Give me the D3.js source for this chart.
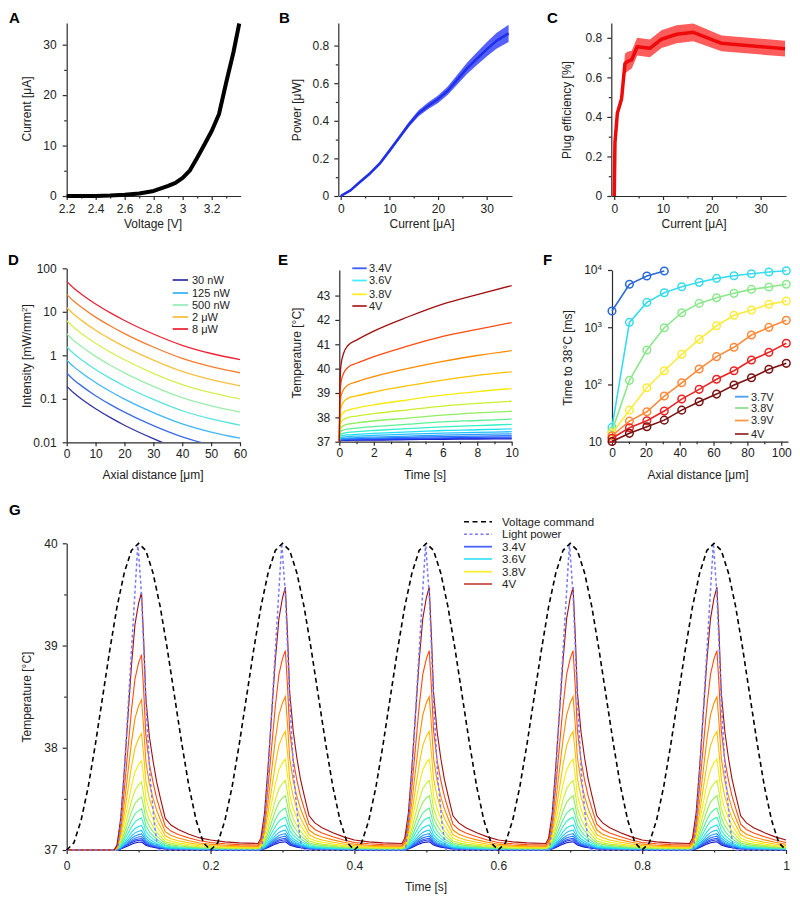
<!DOCTYPE html>
<html><head><meta charset="utf-8">
<script src="https://cdn.jsdelivr.net/npm/d3@7"></script>
<style>body{margin:0;background:#fff}</style>
</head><body><svg id="fig" width="800" height="897"></svg>
<script>
// ---------- DATA ----------
// A: I-V curve
const aVoltage = [2.2, 2.4, 2.5, 2.6, 2.7, 2.8, 2.9, 2.95, 3.0, 3.05, 3.1, 3.15, 3.2, 3.25, 3.3, 3.35, 3.39];
const aCurrent = [0, 0.02, 0.1, 0.25, 0.5, 1.0, 2.0, 2.6, 3.6, 5.1, 7.6, 10.2, 12.9, 16.2, 22.5, 28.5, 34.2];
// B: power vs current (mean, sd)
const bCurrent = [0, 2, 4, 6, 8, 10, 12, 14, 16, 18, 20, 22, 24, 26, 28, 30, 32, 34.5];
const bPower   = [0, 0.03, 0.076, 0.12, 0.172, 0.24, 0.31, 0.38, 0.44, 0.48, 0.515, 0.56, 0.62, 0.68, 0.73, 0.78, 0.825, 0.865];
const bSd      = [0.005, 0.006, 0.007, 0.008, 0.009, 0.01, 0.011, 0.013, 0.016, 0.018, 0.02, 0.022, 0.026, 0.03, 0.034, 0.038, 0.042, 0.046];
// C: plug efficiency
const cCurrent = [0, 0.15, 0.65, 1.5, 2.2, 2.7, 3.6, 4.7, 7.3, 9.7, 12.8, 16.2, 22, 35];
const cEff     = [0, 0.27, 0.42, 0.49, 0.67, 0.68, 0.69, 0.755, 0.747, 0.793, 0.818, 0.828, 0.772, 0.745];
const cSd      = [0, 0.01, 0.02, 0.025, 0.05, 0.05, 0.045, 0.045, 0.045, 0.045, 0.045, 0.045, 0.04, 0.04];
// D: intensity vs axial distance, one series per power
const dDist = [0, 2.5, 5, 10, 15, 20, 30, 40, 50, 60];
const dIntensity = [
  [0.196, 0.136, 0.100, 0.059, 0.0373, 0.0246, 0.0121, 0.0066, 0.0043, 0.0031],
  [0.391, 0.271, 0.201, 0.118, 0.0746, 0.0493, 0.0241, 0.0133, 0.0086, 0.0062],
  [0.783, 0.542, 0.402, 0.236, 0.149, 0.0986, 0.0483, 0.0266, 0.0172, 0.0124],
  [1.57, 1.08, 0.803, 0.472, 0.298, 0.197, 0.0966, 0.0531, 0.0344, 0.0248],
  [3.13, 2.17, 1.61, 0.944, 0.597, 0.394, 0.193, 0.106, 0.0688, 0.0496],
  [6.26, 4.34, 3.21, 1.89, 1.19, 0.789, 0.386, 0.213, 0.138, 0.0993],
  [12.5, 8.68, 6.43, 3.78, 2.39, 1.58, 0.773, 0.425, 0.275, 0.199],
  [25.1, 17.4, 12.9, 7.55, 4.78, 3.16, 1.55, 0.85, 0.55, 0.397],
  [50.1, 34.7, 25.7, 15.1, 9.55, 6.31, 3.09, 1.70, 1.10, 0.794]
];
const dLegendLabels = ['30 nW', '125 nW', '500 nW', '2 \u03bcW', '8 \u03bcW'];
// E: temperature vs time, one series per voltage (3.4 V ... 4 V)
const eTime = [0, 0.03, 0.1, 0.25, 0.5, 1, 2, 4, 6, 8, 10];
const eTemps = [
  [37, 37.03, 37.05, 37.06, 37.06, 37.07, 37.07, 37.09, 37.10, 37.11, 37.12],
  [37, 37.04, 37.06, 37.06, 37.07, 37.08, 37.09, 37.11, 37.13, 37.14, 37.15],
  [37, 37.06, 37.08, 37.09, 37.10, 37.11, 37.12, 37.14, 37.16, 37.18, 37.19],
  [37, 37.07, 37.10, 37.11, 37.12, 37.13, 37.15, 37.18, 37.21, 37.23, 37.25],
  [37, 37.08, 37.12, 37.14, 37.15, 37.17, 37.19, 37.23, 37.27, 37.30, 37.32],
  [37, 37.12, 37.17, 37.19, 37.21, 37.23, 37.26, 37.31, 37.35, 37.38, 37.41],
  [37, 37.15, 37.22, 37.26, 37.28, 37.30, 37.34, 37.40, 37.46, 37.49, 37.53],
  [37, 37.21, 37.30, 37.35, 37.38, 37.41, 37.46, 37.54, 37.61, 37.66, 37.71],
  [37, 37.29, 37.42, 37.48, 37.52, 37.56, 37.62, 37.72, 37.81, 37.87, 37.93],
  [37, 37.40, 37.58, 37.66, 37.72, 37.77, 37.85, 37.97, 38.09, 38.18, 38.25],
  [37, 37.54, 37.79, 37.91, 37.99, 38.05, 38.15, 38.31, 38.46, 38.57, 38.66],
  [37, 37.72, 38.04, 38.20, 38.30, 38.38, 38.51, 38.72, 38.91, 39.06, 39.18],
  [37, 37.98, 38.42, 38.64, 38.78, 38.88, 39.04, 39.30, 39.53, 39.72, 39.87],
  [37, 38.28, 38.86, 39.14, 39.33, 39.46, 39.67, 40.01, 40.30, 40.54, 40.74],
  [37, 38.68, 39.44, 39.81, 40.05, 40.22, 40.49, 40.93, 41.32, 41.61, 41.89],
  [37, 39.17, 40.16, 40.63, 40.95, 41.17, 41.54, 42.13, 42.65, 43.04, 43.41]
];
const voltLegendLabels = ['3.4V', '3.6V', '3.8V', '4V'];
// F: time to 38 °C vs axial distance
const fDist = [0, 10.3, 20.6, 30.9, 41.2, 51.5, 61.8, 72.1, 82.4, 92.7, 103];
const fTimes = [
  [1920, 5620, 7850, 9600],
  [17.8, 1217, 2720, 4010, 5100, 6090, 7140, 7940, 8600, 9230, 9720],
  [15.3, 118, 399, 980, 1795, 2610, 3280, 3910, 4590, 5050, 5620],
  [14, 35.6, 87.7, 174, 336, 614, 1060, 1615, 2000, 2510, 2870],
  [12.7, 22.9, 33.4, 62.7, 107, 186, 306, 446, 731, 995, 1320],
  [11.5, 17.5, 23.2, 34.3, 55.6, 82.2, 123, 174, 267, 364, 524],
  [10.1, 14, 18.2, 23.8, 35.6, 49.9, 67.9, 97.7, 131, 184, 234]
];
const fLegendLabels = ['3.7V', '3.8V', '3.9V', '4V'];
// G: pulsed stimulation
const gPulseStarts = [0, 0.2, 0.4, 0.6, 0.8];
const gCmdOffsets = [0, 0.01, 0.02, 0.03, 0.04, 0.05, 0.06, 0.07, 0.08, 0.09, 0.1, 0.11, 0.12, 0.13, 0.14, 0.15, 0.16, 0.17, 0.18, 0.19, 0.2];
const gCmdTemp = [37, 37.07, 37.29, 37.62, 38.04, 38.5, 38.96, 39.38, 39.71, 39.93, 40, 39.93, 39.71, 39.38, 38.96, 38.5, 38.04, 37.62, 37.29, 37.07, 37];
const gLightOffsets = [0, 0.071, 0.075, 0.08, 0.086, 0.093, 0.099, 0.104, 0.11, 0.116, 0.122, 0.127, 0.2];
const gLightTemp = [37, 37, 37.25, 37.75, 38.47, 39.3, 40, 39.5, 38.47, 37.7, 37.25, 37, 37];
const gOffsets = [0, 0.02, 0.04, 0.066, 0.07, 0.075, 0.08, 0.085, 0.09, 0.095, 0.1, 0.104, 0.107, 0.11, 0.115, 0.12, 0.125, 0.13, 0.137, 0.145, 0.155, 0.17, 0.185, 0.2];
const gShapeFirst = [0, 0, 0, 0, 0.02, 0.12, 0.3, 0.5, 0.7, 0.86, 0.94, 0.98, 0.8, 0.58, 0.43, 0.34, 0.26, 0.2, 0.12, 0.095, 0.078, 0.06, 0.046, 0.038];
const gShapeLater = [0.038, 0.031, 0.027, 0.025, 0.045, 0.14, 0.32, 0.52, 0.72, 0.88, 0.96, 1.0, 0.82, 0.6, 0.45, 0.35, 0.27, 0.21, 0.13, 0.103, 0.085, 0.066, 0.05, 0.038];
const gPeakRise = [0.08, 0.10, 0.115, 0.135, 0.16, 0.195, 0.245, 0.32, 0.41, 0.53, 0.68, 0.89, 1.16, 1.5, 1.95, 2.57];
const gLegendLabels = ['Voltage command', 'Light power', '3.4V', '3.6V', '3.8V', '4V'];

// ---------- STYLE ----------
const FONT = '"Liberation Sans", Arial, Helvetica, sans-serif';
const voltColors = ['#1818c8','#2038e6','#2a55ff','#2a78ff','#2a9cff','#22c0ff','#1ee0f0','#30f0c8','#5cf096','#90ee60','#c8f030','#f6ea10','#ffc000','#ff8a00','#ff4a10','#a00e0e'];
const dColors = ['#3232a8','#3a6ce6','#3fb6f6','#56e4de','#9aeeaa','#d6ee50','#f8c23e','#f67c2c','#ee2236'];
const dLegendColors = ['#3a3aaa','#40b4f4','#98eeb8','#f8c040','#ee2a3a'];
const eLegendColors = ['#3a5cff','#44eeff','#ffee22','#b52a2a'];
const fColors = ['#2a6ad8','#38dcec','#8ce88c','#fbec3c','#ff8a3a','#ee2424','#7a1010'];
const fLegendColors = ['#4a9ef0','#8ee08e','#ff9a40','#993030'];
const gLegendColors = ['#000','#7a7aff','#4a64ff','#44e4ff','#ffee33','#c85050'];
const FS = 12;

const svg = d3.select('#fig').attr('font-family', FONT);

function styleAxis(g) {
  g.selectAll('path,line').attr('stroke', '#2b2b2b').attr('stroke-width', 1.2);
  g.selectAll('text').attr('font-size', FS + 'px').attr('fill', '#222').attr('font-family', FONT);
}
function addAxes(x, y, o) {
  const yb = y.range()[0], xl = x.range()[0];
  const gx = svg.append('g').attr('transform', `translate(0,${yb})`)
    .call(d3.axisBottom(x).tickValues(o.xt).tickFormat(o.xf || (d => d)).tickSize(4).tickSizeOuter(0).tickPadding(o.xp));
  styleAxis(gx);
  if (o.xm) {
    const m = svg.append('g').attr('transform', `translate(0,${yb})`)
      .call(d3.axisBottom(x).tickValues(o.xm).tickFormat('').tickSize(2.5).tickSizeOuter(0));
    m.select('.domain').remove(); styleAxis(m);
  }
  const gy = svg.append('g').attr('transform', `translate(${xl},0)`)
    .call(d3.axisLeft(y).tickValues(o.yt).tickFormat(o.yf || (d => d)).tickSize(4).tickSizeOuter(0).tickPadding(o.yp));
  styleAxis(gy);
  if (o.ym) {
    const m = svg.append('g').attr('transform', `translate(${xl},0)`)
      .call(d3.axisLeft(y).tickValues(o.ym).tickFormat('').tickSize(2.5).tickSizeOuter(0));
    m.select('.domain').remove(); styleAxis(m);
  }
  return gy;
}
function xTitle(txt, cx, by) {
  svg.append('text').attr('x', cx).attr('y', by).attr('text-anchor', 'middle')
    .attr('font-size', FS + 'px').attr('fill', '#222').text(txt);
}
function yTitle(txt, bx, cy) {
  return svg.append('text').attr('transform', `translate(${bx},${cy}) rotate(-90)`).attr('text-anchor', 'middle')
    .attr('font-size', FS + 'px').attr('fill', '#222').text(txt);
}
function letter(l, x, y) {
  svg.append('text').attr('x', x).attr('y', y).attr('font-size', '15px').attr('font-weight', 'bold').attr('fill', '#000').text(l);
}
function legend(items, x1, x2, tx, ys, width, fs) {
  items.forEach((it, i) => {
    const l = svg.append('line').attr('x1', x1).attr('x2', x2).attr('y1', ys[i]).attr('y2', ys[i])
      .attr('stroke', it.color).attr('stroke-width', width);
    if (it.dash) l.attr('stroke-dasharray', it.dash).attr('stroke-width', 1.6);
    svg.append('text').attr('x', tx).attr('y', ys[i]).attr('dy', '0.35em').attr('font-size', fs + 'px')
      .attr('fill', '#222').text(it.label);
  });
}
const fmt1 = d => (d === 0 ? '0' : (+d.toFixed(1)).toString());

// ---------- A ----------
{
  const x = d3.scaleLinear().domain([2.2, 3.4]).range([66.7, 240.7]);
  const y = d3.scaleLinear().domain([0, 34.3]).range([196, 23]);
  addAxes(x, y, { xt: [2.2, 2.4, 2.6, 2.8, 3.0, 3.2], xf: fmt1, xm: [2.3, 2.5, 2.7, 2.9, 3.1, 3.3], xp: 4,
                  yt: [0, 10, 20, 30], ym: [5, 15, 25], yp: 6 });
  const pts = aVoltage.map((v, i) => [v, aCurrent[i]]);
  svg.append('path').datum(pts).attr('fill', 'none').attr('stroke', '#000').attr('stroke-width', 4)
    .attr('stroke-linejoin', 'round').attr('d', d3.line().x(d => x(d[0])).y(d => y(d[1])));
  xTitle('Voltage [V]', 153, 228);
  yTitle('Current [\u03bcA]', 31, 109);
  letter('A', 9, 23);
}
// ---------- B ----------
{
  const x = d3.scaleLinear().domain([-0.5, 35.2]).range([338.3, 512]);
  const y = d3.scaleLinear().domain([0, 0.92]).range([196, 23]);
  addAxes(x, y, { xt: [0, 10, 20, 30], xm: [5, 15, 25], xp: 4, yt: [0, 0.2, 0.4, 0.6, 0.8], yf: fmt1, ym: [0.1, 0.3, 0.5, 0.7], yp: 5 });
  const pts = bCurrent.map((c, i) => [c, bPower[i], bSd[i]]);
  svg.append('path').datum(pts).attr('fill', '#5560ff')
    .attr('d', d3.area().x(d => x(d[0])).y0(d => y(d[1] - d[2])).y1(d => y(d[1] + d[2])));
  svg.append('path').datum(pts).attr('fill', 'none').attr('stroke', '#2030e8').attr('stroke-width', 2.5)
    .attr('stroke-linejoin', 'round').attr('d', d3.line().x(d => x(d[0])).y(d => y(d[1])));
  xTitle('Current [\u03bcA]', 422, 228);
  yTitle('Power [\u03bcW]', 301, 110);
  letter('B', 279, 23);
}
// ---------- C ----------
{
  const x = d3.scaleLinear().domain([-0.6, 35.2]).range([611.3, 786]);
  const y = d3.scaleLinear().domain([0, 0.875]).range([196, 23]);
  addAxes(x, y, { xt: [0, 10, 20, 30], xm: [5, 15, 25], xp: 4, yt: [0, 0.2, 0.4, 0.6, 0.8], yf: fmt1, ym: [0.1, 0.3, 0.5, 0.7], yp: 5 });
  const pts = cCurrent.map((c, i) => [c, cEff[i], cSd[i]]);
  svg.append('path').datum(pts).attr('fill', '#ff5c5c')
    .attr('d', d3.area().x(d => x(d[0])).y0(d => y(Math.max(0, d[1] - d[2]))).y1(d => y(d[1] + d[2])));
  svg.append('path').datum(pts).attr('fill', 'none').attr('stroke', '#ee0a0a').attr('stroke-width', 3.5)
    .attr('stroke-linejoin', 'round').attr('d', d3.line().x(d => x(d[0])).y(d => y(d[1])));
  xTitle('Current [\u03bcA]', 694, 228);
  yTitle('Plug efficiency [%]', 571, 110);
  letter('C', 547, 23);
}
// ---------- D ----------
{
  const x = d3.scaleLinear().domain([0, 60]).range([66.7, 240]);
  const y = d3.scaleLog().domain([0.01, 100]).range([442.3, 268.3]);
  svg.append('clipPath').attr('id', 'clipD').append('rect').attr('x', 66.7).attr('y', 260).attr('width', 175).attr('height', 182.3);
  addAxes(x, y, { xt: [0, 10, 20, 30, 40, 50, 60], xp: 3, yt: [0.01, 0.1, 1, 10, 100], yf: d => String(d), yp: 6 });
  const line = d3.line().x(d => x(d[0])).y(d => y(d[1])).curve(d3.curveMonotoneX);
  dIntensity.forEach((ser, i) => {
    svg.append('path').datum(dDist.map((d, j) => [d, ser[j]])).attr('clip-path', 'url(#clipD)')
      .attr('fill', 'none').attr('stroke', dColors[i]).attr('stroke-width', 1.3).attr('d', line);
  });
  legend(dLegendLabels.map((l, i) => ({ label: l, color: dLegendColors[i] })), 172.7, 188, 192, [280, 293, 305, 317, 329], 1.8, 11);
  xTitle('Axial distance [\u03bcm]', 153, 479);
  const t = yTitle('Intensity [mW/mm', 31, 356);
  t.append('tspan').attr('dy', -4).attr('font-size', '8px').text('2');
  t.append('tspan').attr('dy', 4).text(']');
  letter('D', 8, 265);
}
// ---------- E ----------
{
  const x = d3.scaleLinear().domain([0, 10]).range([339.3, 511.7]);
  const y = d3.scaleLinear().domain([37, 44.05]).range([441.7, 270]);
  addAxes(x, y, { xt: [0, 2, 4, 6, 8, 10], xm: [1, 3, 5, 7, 9], xp: 3, yt: [37, 38, 39, 40, 41, 42, 43], yp: 5 });
  const line = d3.line().x(d => x(d[0])).y(d => y(d[1])).curve(d3.curveMonotoneX);
  eTemps.forEach((ser, i) => {
    svg.append('path').datum(eTime.map((t, j) => [t, ser[j]])).attr('fill', 'none')
      .attr('stroke', voltColors[i]).attr('stroke-width', 1.3).attr('d', line);
  });
  legend(voltLegendLabels.map((l, i) => ({ label: l, color: eLegendColors[i] })), 352.3, 366.7, 369, [268.3, 280.5, 294.3, 306], 1.8, 11);
  xTitle('Time [s]', 425, 479);
  yTitle('Temperature [\u00b0C]', 301, 353);
  letter('E', 278, 265);
}
// ---------- F ----------
{
  const x = d3.scaleLinear().domain([0, 104]).range([612, 788]);
  const y = d3.scaleLog().domain([10, 10000]).range([441.7, 270]);
  const gy = addAxes(x, y, { xt: [0, 20, 40, 60, 80, 100], xm: [10, 30, 50, 70, 90], xp: 3, yt: [10, 100, 1000, 10000], yf: d => '10', yp: 6 });
  gy.selectAll('.tick text').each(function (d) {
    const e = Math.round(Math.log10(d));
    if (e > 1) d3.select(this).append('tspan').attr('dy', '-0.55em').attr('font-size', '8px').text(e);
  });
  fTimes.forEach((ser, i) => {
    const pts = ser.map((v, j) => [fDist[j], v]);
    svg.append('path').datum(pts).attr('fill', 'none').attr('stroke', fColors[i]).attr('stroke-width', 1.6)
      .attr('d', d3.line().x(d => x(d[0])).y(d => y(d[1])));
    svg.append('g').selectAll('circle').data(pts).join('circle')
      .attr('cx', d => x(d[0])).attr('cy', d => y(d[1])).attr('r', 3.8)
      .attr('fill', 'none').attr('stroke', fColors[i]).attr('stroke-width', 1.5);
  });
  legend(fLegendLabels.map((l, i) => ({ label: l, color: fLegendColors[i] })), 735, 748.5, 751, [396.7, 408, 420.5, 434], 1.8, 11);
  xTitle('Axial distance [\u03bcm]', 698, 479);
  yTitle('Time to 38\u00b0C [ms]', 572, 358);
  letter('F', 543, 265);
}
// ---------- G ----------
{
  const x = d3.scaleLinear().domain([0, 1]).range([66.7, 786]);
  const y = d3.scaleLinear().domain([37, 40]).range([850, 543.3]);
  addAxes(x, y, { xt: [0, 0.2, 0.4, 0.6, 0.8, 1], xf: d => String(+d.toFixed(1)), xm: [0.1, 0.3, 0.5, 0.7, 0.9], xp: 7,
                  yt: [37, 38, 39, 40], ym: [37.5, 38.5, 39.5], yp: 5 });
  const line = d3.line().x(d => x(d[0])).y(d => y(d[1]));
  gPeakRise.forEach((rise, i) => {
    const pts = [];
    gPulseStarts.forEach((s, k) => {
      const shape = k === 0 ? gShapeFirst : gShapeLater;
      gOffsets.forEach((o, j) => { if (!(k > 0 && j === 0)) pts.push([s + o, 37 + rise * shape[j]]); });
    });
    svg.append('path').datum(pts).attr('fill', 'none').attr('stroke', voltColors[i]).attr('stroke-width', 1.1).attr('d', line);
  });
  const lightPts = [], cmdPts = [];
  gPulseStarts.forEach((s, k) => {
    gLightOffsets.forEach((o, j) => { if (!(k > 0 && j === 0)) lightPts.push([s + o, gLightTemp[j]]); });
    gCmdOffsets.forEach((o, j) => { if (!(k > 0 && j === 0)) cmdPts.push([s + o, gCmdTemp[j]]); });
  });
  svg.append('path').datum(lightPts).attr('fill', 'none').attr('stroke', '#7a7aff').attr('stroke-width', 1.5)
    .attr('stroke-dasharray', '3,2.5').attr('d', line);
  svg.append('path').datum(cmdPts).attr('fill', 'none').attr('stroke', '#000').attr('stroke-width', 1.6)
    .attr('stroke-dasharray', '5,3.5').attr('d', line);
  legend(gLegendLabels.map((l, i) => ({ label: l, color: gLegendColors[i], dash: i === 0 ? '5,3.5' : (i === 1 ? '3,2.5' : null) })),
         464, 492, 502, [521.7, 534.3, 546.7, 559, 571.7, 584], 1.8, 11.5);
  xTitle('Time [s]', 426, 891);
  yTitle('Temperature [\u00b0C]', 31, 697);
  letter('G', 9, 515);
}
</script></body></html>
